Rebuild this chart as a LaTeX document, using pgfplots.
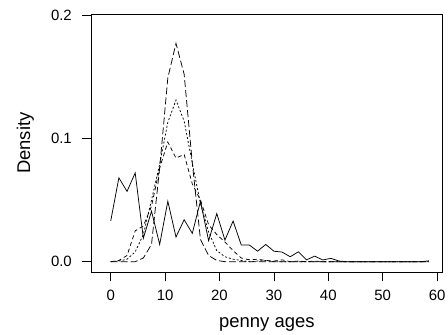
\documentclass[border=0pt]{standalone}
\usepackage{pgfplots}
\pgfplotsset{compat=1.18}
\usepackage{pgfplotstable}
\usepackage{fontspec}
\setmainfont{Liberation Sans}
\pgfplotstableread{
x s d t l
0 0.033 0 0 0
1.5 0.068 0.001 0.0005 0
3 0.057 0.005 0.002 0
4.5 0.072 0.025 0.008 0
6 0.019 0.029 0.022 0.003
7.5 0.041 0.045 0.050 0.014
9 0.014 0.076 0.079 0.076
10.5 0.049 0.097 0.113 0.149
12 0.020 0.084 0.131 0.177
13.5 0.034 0.087 0.114 0.152
15 0.023 0.063 0.080 0.080
16.5 0.049 0.050 0.047 0.018
18 0.017 0.030 0.024 0.005
19.5 0.039 0.022 0.009 0.001
21 0.0175 0.016 0.004 0
22.5 0.033 0.009 0.002 0
24 0.0135 0.003 0.001 0
25.5 0.0135 0.0015 0 0
27 0.0085 0.002 0.0005 0
28.5 0.014 0.001 0.001 0
30 0.0085 0.0005 0 0
31.5 0.0078 0.0015 0 0
33 0.004 0 0 0
34.5 0.008 0.0005 0 0
36 0.0015 0 0 0
37.5 0.0045 0.0005 0 0
39 0.0014 0 0 0
40.5 0.0027 0 0 0
42 0.0005 0 0 0
43.5 0 0 0 0
45 0 0 0 0
46.5 0 0 0 0
48 0 0 0 0
49.5 0 0 0 0
51 0 0 0 0
52.5 0 0 0 0
54 0 0 0 0
55.5 0 0 0 0
57 0 0 0 0
58.5 0.0007 0 0 0
}\data
\begin{document}
\begin{tikzpicture}
\useasboundingbox (-91.3bp,-62.7bp) rectangle (356.7bp,272.3bp);
\begin{axis}[
  scale only axis, width=351.2bp, height=258.3bp,
  xmin=-3.57, xmax=61.0, ymin=-0.0086, ymax=0.2008,
  axis line style={line width=0.75bp},
  tick align=outside, xtick pos=left, ytick pos=left,
  major tick length=9bp,
  tick style={line width=0.75bp, black},
  xtick={0,10,...,60}, ytick={0,0.1,0.2},
  yticklabels={0.0,0.1,0.2},
  /pgf/number format/assume math mode=true,
  ticklabel style={font=\fontsize{15}{16}\selectfont},
  xticklabel style={yshift=-5bp},
  yticklabel style={xshift=-7bp},
  xlabel={penny ages}, ylabel={Density},
  label style={font=\fontsize{18.5}{20}\selectfont},
  xlabel style={at={(axis description cs:0.5,-0.2)}, anchor=center},
  ylabel style={at={(axis description cs:-0.188,0.5)}, anchor=center},
  every axis plot/.append style={line width=0.75bp, black},
]
\addplot[solid] table[x=x,y=s]{\data};
\addplot[dash pattern=on 4bp off 3bp] table[x=x,y=d]{\data};
\addplot[dash pattern=on 2bp off 2bp] table[x=x,y=t]{\data};
\addplot[dash pattern=on 7bp off 3bp] table[x=x,y=l]{\data};
\end{axis}
\end{tikzpicture}
\end{document}
